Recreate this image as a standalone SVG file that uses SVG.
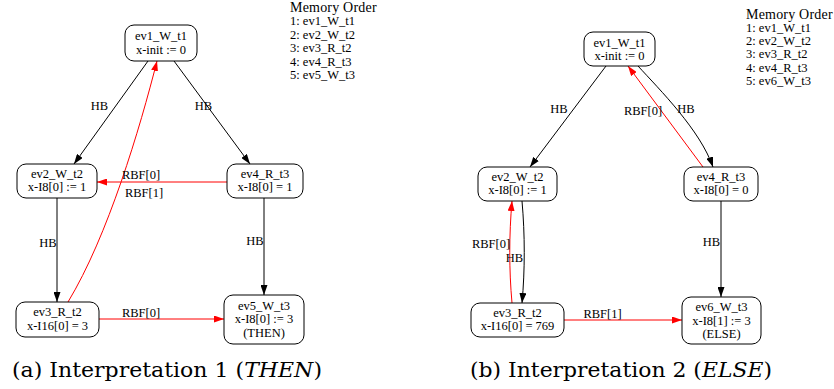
<svg xmlns="http://www.w3.org/2000/svg" width="834" height="389" viewBox="0 0 834 389">
<style>
text{font-family:'Liberation Serif','Times New Roman',serif;font-size:12.5px;fill:#000}
.n rect{fill:#fff;stroke:#000;stroke-width:1}
.n text{text-anchor:middle}
.e{fill:none;stroke-width:1}
.k{stroke:#000;marker-end:url(#ak)}
.r{stroke:#ff0000;marker-end:url(#ar)}
.lb{text-anchor:middle}
.mo{text-anchor:start}
.mh{font-size:14px;letter-spacing:0.2px}
.cap{font-family:'DejaVu Serif',serif;font-size:20px}
</style>
<defs>
<marker id="ak" markerUnits="userSpaceOnUse" markerWidth="10" markerHeight="7" refX="10" refY="3.5" orient="auto"><path d="M0,0 L10,3.5 L0,7 z" fill="#000"/></marker>
<marker id="ar" markerUnits="userSpaceOnUse" markerWidth="10" markerHeight="7" refX="10" refY="3.5" orient="auto"><path d="M0,0 L10,3.5 L0,7 z" fill="#ff0000"/></marker>
</defs>
<rect width="834" height="389" fill="#fff"/>
<g id="connectors">
<path class="e k" d="M148,61 L74,164"/>
<path class="e k" d="M174,61 L250,164"/>
<path class="e r" d="M227,182 L97,182"/>
<path class="e r" d="M68,302 C108,236 140,128 157,61"/>
<path class="e k" d="M57,198 L57,302"/>
<path class="e k" d="M264,198 L264,295"/>
<path class="e r" d="M99,319 L224,319"/>
<path class="e k" d="M606,66 L530,167"/>
<path class="e r" d="M703,167 L628,66"/>
<path class="e k" d="M638,66 C660,90 700,130 713,167"/>
<path class="e r" d="M512,303 C509,270 509,235 512,201"/>
<path class="e k" d="M522,201 C525,235 525,270 522,303"/>
<path class="e k" d="M721,201 L721,297"/>
<path class="e r" d="M564,320 L682,320"/>
<text class="lb" x="99.5" y="109.5">HB</text>
<text class="lb" x="203.5" y="109.5">HB</text>
<text class="lb" x="141" y="178.5">RBF[0]</text>
<text class="lb" x="144" y="196.5">RBF[1]</text>
<text class="lb" x="48" y="246.5">HB</text>
<text class="lb" x="255" y="244.5">HB</text>
<text class="lb" x="141" y="316.5">RBF[0]</text>
<text class="lb" x="559" y="112.5">HB</text>
<text class="lb" x="686" y="112.5">HB</text>
<text class="lb" x="643" y="114.5">RBF[0]</text>
<text class="lb" x="491" y="247.5">RBF[0]</text>
<text class="lb" x="514.5" y="261.5">HB</text>
<text class="lb" x="711.5" y="245.5">HB</text>
<text class="lb" x="602.5" y="317.5">RBF[1]</text>
</g>
<g id="a_ev1" class="n"><rect x="125" y="25" width="72" height="36" rx="9"/><text x="161" y="40">ev1_W_t1</text><text x="161" y="54">x-init := 0</text></g>
<g id="a_ev2" class="n"><rect x="17" y="164" width="80" height="34" rx="9"/><text x="57" y="178">ev2_W_t2</text><text x="57" y="191">x-I8[0] := 1</text></g>
<g id="a_ev4" class="n"><rect x="227" y="164" width="76" height="34" rx="9"/><text x="265" y="178">ev4_R_t3</text><text x="265" y="191">x-I8[0] = 1</text></g>
<g id="a_ev3" class="n"><rect x="16" y="302" width="83" height="35" rx="9"/><text x="57.5" y="316">ev3_R_t2</text><text x="57.5" y="329.5">x-I16[0] = 3</text></g>
<g id="a_ev5" class="n"><rect x="224" y="295" width="80" height="49" rx="9"/><text x="264" y="310">ev5_W_t3</text><text x="264" y="323">x-I8[0] := 3</text><text x="264" y="336.5">(THEN)</text></g>
<g id="a_memorder"><text class="mo mh" x="290" y="12">Memory Order</text><text class="mo" x="290" y="25.4">1: ev1_W_t1</text><text class="mo" x="290" y="38.8">2: ev2_W_t2</text><text class="mo" x="290" y="52.2">3: ev3_R_t2</text><text class="mo" x="290" y="65.6">4: ev4_R_t3</text><text class="mo" x="290" y="79">5: ev5_W_t3</text></g>
<g id="b_ev1" class="n"><rect x="584" y="32" width="71" height="34" rx="9"/><text x="619.5" y="46.5">ev1_W_t1</text><text x="619.5" y="59.5">x-init := 0</text></g>
<g id="b_ev2" class="n"><rect x="478" y="167" width="79" height="34" rx="9"/><text x="517.5" y="181">ev2_W_t2</text><text x="517.5" y="194">x-I8[0] := 1</text></g>
<g id="b_ev4" class="n"><rect x="684" y="167" width="74" height="34" rx="9"/><text x="721" y="181">ev4_R_t3</text><text x="721" y="194">x-I8[0] = 0</text></g>
<g id="b_ev3" class="n"><rect x="471" y="303" width="93" height="34" rx="9"/><text x="517.5" y="317">ev3_R_t2</text><text x="517.5" y="330">x-I16[0] = 769</text></g>
<g id="b_ev6" class="n"><rect x="682" y="297" width="79" height="47" rx="9"/><text x="721.5" y="311">ev6_W_t3</text><text x="721.5" y="324.5">x-I8[1] := 3</text><text x="721.5" y="338">(ELSE)</text></g>
<g id="b_memorder"><text class="mo mh" x="746" y="18.5">Memory Order</text><text class="mo" x="746" y="31.8">1: ev1_W_t1</text><text class="mo" x="746" y="45.1">2: ev2_W_t2</text><text class="mo" x="746" y="58.4">3: ev3_R_t2</text><text class="mo" x="746" y="71.7">4: ev4_R_t3</text><text class="mo" x="746" y="85">5: ev6_W_t3</text></g>
<g id="captions">
<text class="cap" x="12" y="376.5" textLength="310" lengthAdjust="spacingAndGlyphs">(a) Interpretation 1 (<tspan font-style="italic">THEN</tspan>)</text>
<text class="cap" x="470" y="376.5" textLength="302" lengthAdjust="spacingAndGlyphs">(b) Interpretation 2 (<tspan font-style="italic">ELSE</tspan>)</text>
</g>
</svg>
